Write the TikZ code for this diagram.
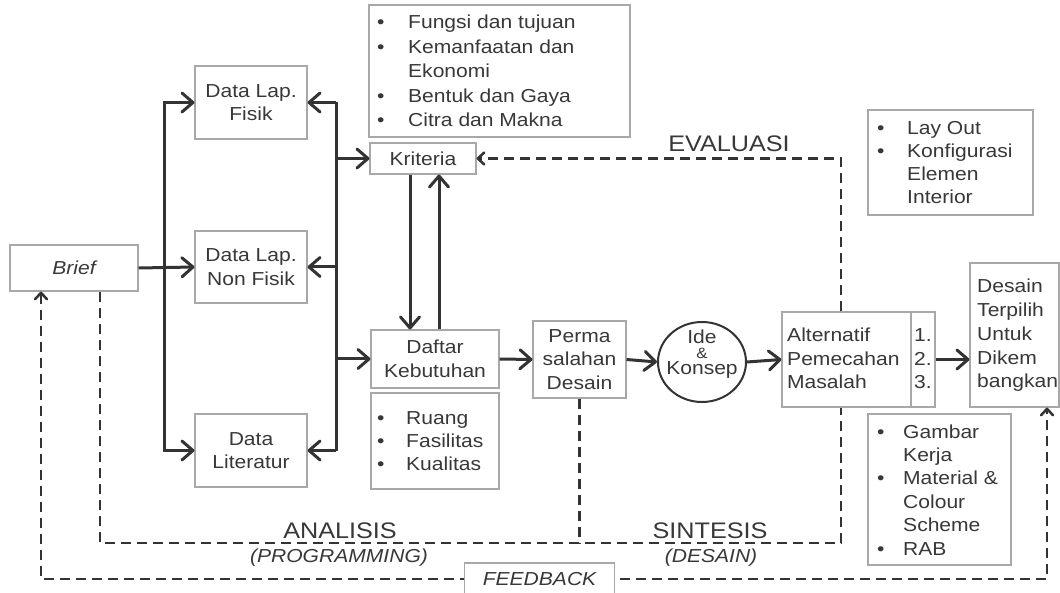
\documentclass[tikz,border=0pt]{standalone}
\usepackage{fontspec}
\setmainfont[FakeStretch=1.12]{Liberation Sans}
\usetikzlibrary{arrows.meta,calc,shapes.geometric}
\definecolor{ln}{HTML}{333333}
\definecolor{bx}{HTML}{A8A8A8}
\definecolor{tx}{HTML}{383838}
\newcommand\txtfont{\fontsize{18.8}{23.5}\selectfont}
\newcommand\lblfont{\fontsize{22.5}{26}\selectfont}
\tikzset{
  box/.style={draw=bx, line width=1.1pt, inner sep=0pt, align=center, text=tx, font=\txtfont},
  txt/.style={inner sep=0pt, text=tx, font=\txtfont},
  lbl/.style={inner sep=0pt, text=tx, font=\lblfont, anchor=base},
  conn/.style={draw=ln, line width=3pt, -{Straight Barb[length=11pt,width=19pt,line width=3pt,round]}},
  busline/.style={draw=ln, line width=3pt},
  dline/.style={draw=ln, line width=2.7pt, dash pattern=on 10pt off 6pt},
  dtip/.tip={Straight Barb[length=6.5pt,width=12pt,line width=2.5pt,round]},
}
\begin{document}
\begin{tikzpicture}[x=1pt,y=-1pt]
\clip (0,0) rectangle (1060,593);
\fill[white] (0,0) rectangle (1060,593);

% boxes
\node[box, minimum width=128pt, minimum height=46pt] (brief) at (74,268) {\itshape Brief};
\node[box, minimum width=112pt, minimum height=73pt] (fisik) at (251,102.5) {Data Lap.\\Fisik};
\node[box, minimum width=112pt, minimum height=72pt] (nonfisik) at (251,267) {Data Lap.\\Non Fisik};
\node[box, minimum width=112pt, minimum height=73pt] (literatur) at (251,450.5) {Data\\Literatur};
\node[box, minimum width=106pt, minimum height=31pt] (kriteria) at (423,158.5) {Kriteria};
\node[box, minimum width=261pt, minimum height=132pt] (kritlist) at (499.5,71) {};
\node[txt, anchor=base west] (kritlisttxt) at (377,29) {\fontsize{18.8}{24.5}\selectfont\begin{tabular}[t]{@{}l@{}}
\makebox[31pt][l]{•}Fungsi dan tujuan\\
\makebox[31pt][l]{•}Kemanfaatan dan\\
\makebox[31pt][l]{}Ekonomi\\
\makebox[31pt][l]{•}Bentuk dan Gaya\\
\makebox[31pt][l]{•}Citra dan Makna\end{tabular}};
\node[box, minimum width=128pt, minimum height=58pt] (daftar) at (435,359) {Daftar\\Kebutuhan};
\node[box, minimum width=128pt, minimum height=96pt] (ruanglist) at (435,441) {};
\node[txt, anchor=base west] (ruangtxt) at (377,424) {\begin{tabular}[t]{@{}l@{}}
\makebox[29pt][l]{•}Ruang\\
\makebox[29pt][l]{•}Fasilitas\\
\makebox[29pt][l]{•}Kualitas\end{tabular}};
\node[box, minimum width=93pt, minimum height=77pt] (perma) at (579.5,359.5) {Perma\\salahan\\Desain};
\node[ellipse, draw=ln, line width=2pt, minimum width=88pt, minimum height=80pt, inner sep=0pt] (ide) at (702,362) {};
\node[txt, anchor=base] (idetxt) at (702,344) {\begin{tabular}[t]{@{}c@{}}Ide\\[-8.5pt]{\fontsize{15}{15}\selectfont\&}\\[-7.5pt]Konsep\end{tabular}};
\node[box, minimum width=153pt, minimum height=95pt] (alt) at (858.5,359.5) {};
\draw[draw=bx, line width=1.1pt] (alt.north -| 911,0) -- (alt.south -| 911,0);
\node[txt, anchor=base west] (alttxt) at (787,342) {\begin{tabular}[t]{@{}l@{}}Alternatif\\Pemecahan\\Masalah\end{tabular}};
\node[txt, anchor=base west] (altnum) at (914,342) {\begin{tabular}[t]{@{}l@{}}1.\\2.\\3.\end{tabular}};
\node[box, minimum width=89pt, minimum height=144pt] (desain) at (1014.5,335) {};
\node[txt, anchor=base west] (desaintxt) at (977,293) {\fontsize{18.8}{23.7}\selectfont\begin{tabular}[t]{@{}l@{}}Desain\\Terpilih\\Untuk\\Dikem\\bangkan\end{tabular}};
\node[box, minimum width=165pt, minimum height=105pt] (layout) at (950.5,162.5) {};
\node[txt, anchor=base west] (layouttxt) at (877,135) {\fontsize{18.8}{23}\selectfont\begin{tabular}[t]{@{}l@{}}
\makebox[30pt][l]{•}Lay Out\\
\makebox[30pt][l]{•}Konfigurasi\\
\makebox[30pt][l]{}Elemen\\
\makebox[30pt][l]{}Interior\end{tabular}};
\node[box, minimum width=143pt, minimum height=151pt] (gambar) at (939.5,489.5) {};
\node[txt, anchor=base west] (gambartxt) at (877,438) {\fontsize{18.8}{23.4}\selectfont\begin{tabular}[t]{@{}l@{}}
\makebox[26pt][l]{•}Gambar\\
\makebox[26pt][l]{}Kerja\\
\makebox[26pt][l]{•}Material \&\\
\makebox[26pt][l]{}Colour\\
\makebox[26pt][l]{}Scheme\\
\makebox[26pt][l]{•}RAB\end{tabular}};

% helper coordinates
\coordinate (lb) at (164,268);
\coordinate (rb) at (336,268);
\coordinate (kx1) at (410,0);
\coordinate (kx2) at (439,0);
\coordinate (ev) at (841,0);
\coordinate (abot) at (0,543);
\coordinate (ax) at (100,0);
\coordinate (fx) at (1047,0);
\coordinate (fb) at (0,579);
\coordinate (fl) at (41,0);

% solid connectors
\draw[conn] (brief.east) -- (nonfisik.west);
\draw[conn] (lb) |- (fisik.west);
\draw[conn] (lb) |- (literatur.west);
\draw[busline] (rb |- fisik.east) -- (rb |- literatur.east);
\draw[conn] (rb |- fisik.east) -- (fisik.east);
\draw[conn] (rb |- nonfisik.east) -- (nonfisik.east);
\draw[conn] (rb |- literatur.east) -- (literatur.east);
\draw[conn] (rb |- kriteria.west) -- (kriteria.west);
\draw[conn] (rb |- daftar.west) -- (daftar.west);
\draw[conn] (kriteria.south -| kx1) -- (daftar.north -| kx1);
\draw[conn] (daftar.north -| kx2) -- (kriteria.south -| kx2);
\draw[conn] (daftar.east) -- (perma.west);
\draw[conn] (perma.east) -- (ide.west);
\draw[conn] (ide.east) -- (alt.west);
\draw[conn] (alt.east) -- (alt.east -| desain.west);

% dashed connectors
\draw[dline, -dtip] (alt.north -| ev) |- (kriteria.east);
\draw[dline] (brief.south -| ax) |- (abot -| ev) -- (alt.south -| ev);
\draw[dline] (perma.south) -- (perma.south |- abot);
\draw[dline, dtip-dtip] (brief.south -| fl) |- (fb -| fx) -- (desain.south -| fx);

\node[box, fill=white, minimum width=150pt, minimum height=36pt] (feedback) at (539.5,581) {};
\node[txt, anchor=base] (feedbacktxt) at (539.5,585) {\itshape FEEDBACK};

% labels
\node[lbl] (evaluasi) at (729,152) {EVALUASI};
\node[lbl] (analisis) at (340,538) {ANALISIS};
\node[txt, anchor=base] (programming) at (339,562) {\itshape (PROGRAMMING)};
\node[lbl] (sintesis) at (710,538) {SINTESIS};
\node[txt, anchor=base] (desainlbl) at (711,562) {\itshape (DESAIN)};
\end{tikzpicture}
\end{document}
